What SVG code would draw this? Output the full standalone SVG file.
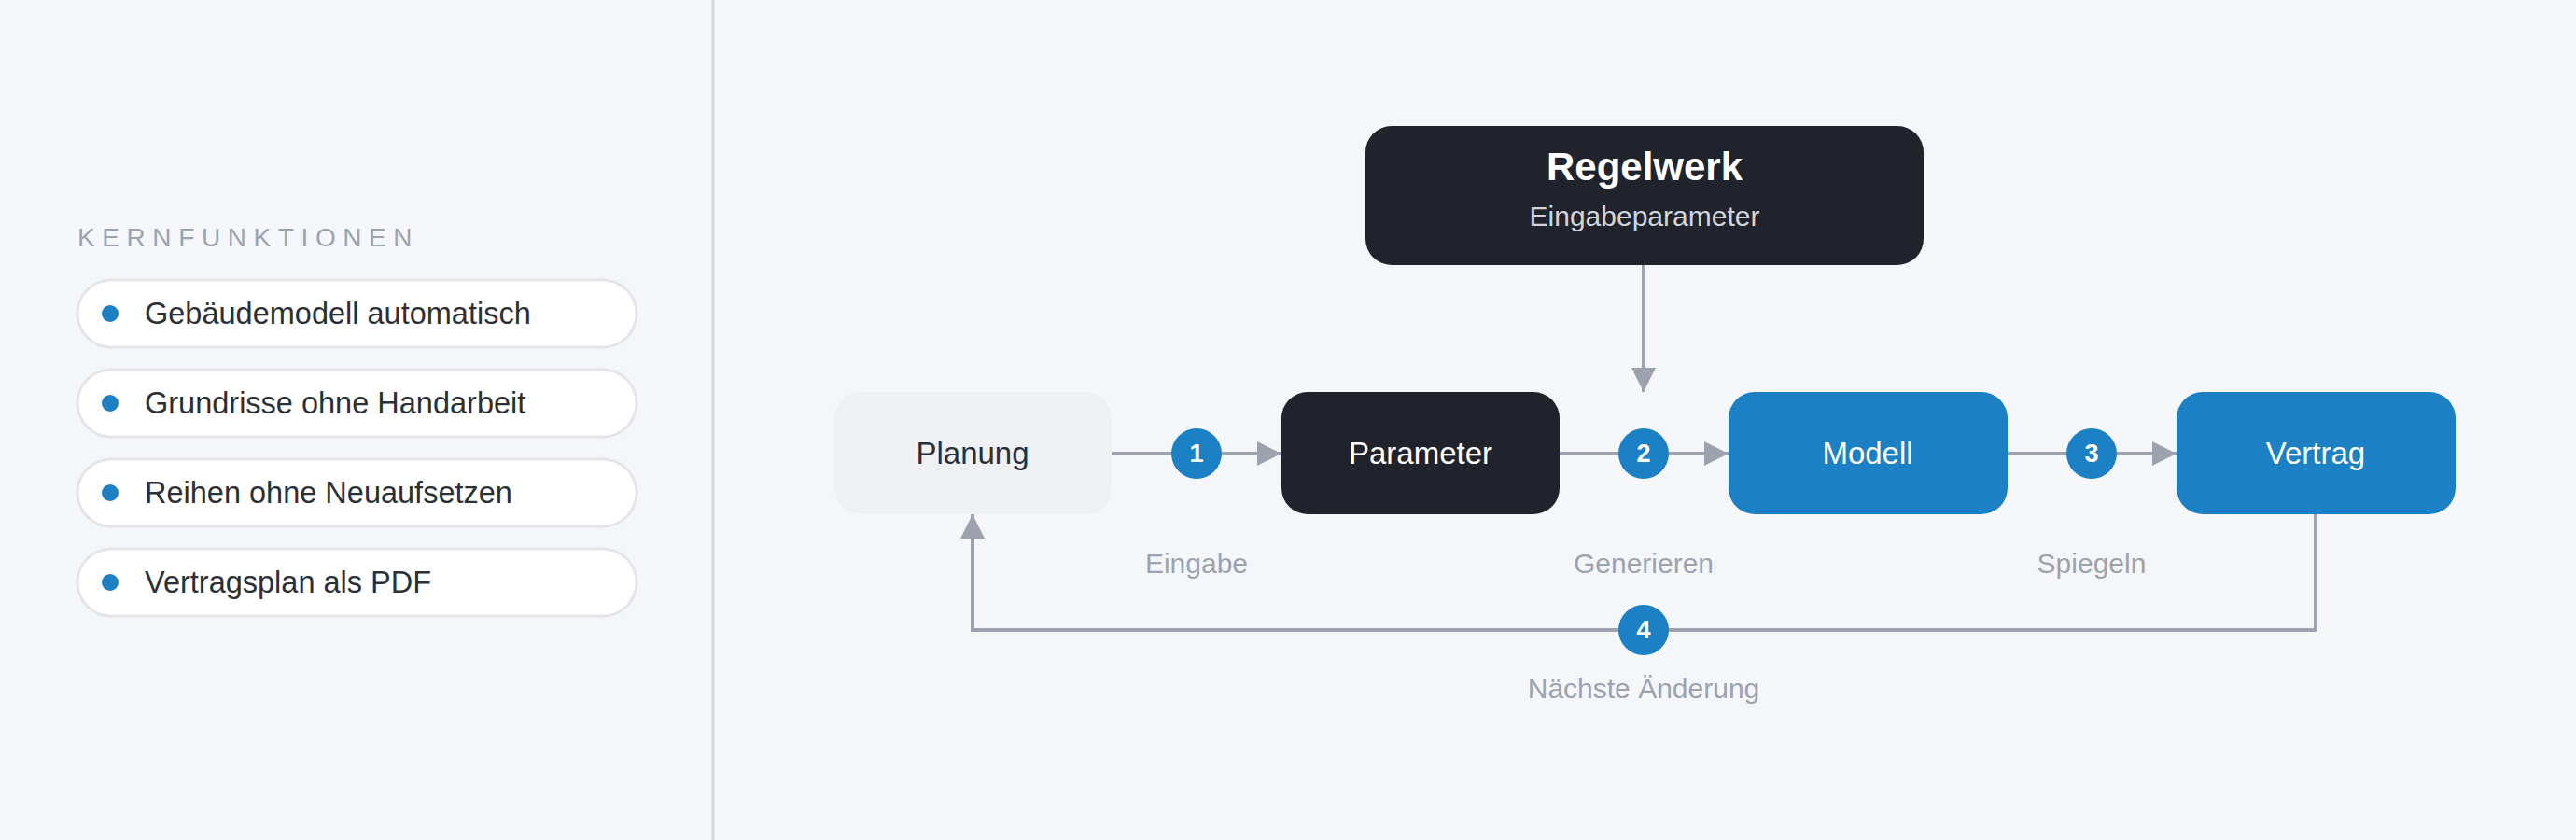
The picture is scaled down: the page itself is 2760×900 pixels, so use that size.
<svg xmlns="http://www.w3.org/2000/svg" width="2760" height="900" viewBox="0 0 2760 900">
<defs>
<marker id="ah" viewBox="0 0 10 10" refX="10" refY="5" markerWidth="6.5" markerHeight="6.5" markerUnits="strokeWidth" orient="auto"><path d="M0,0 L10,5 L0,10 z" fill="#9ca3af"/></marker>
<style>
text{font-family:"Liberation Sans",Arial,sans-serif}
.pill{fill:#ffffff;stroke:#e3e5ea;stroke-width:3}
.dot{fill:#1b80c4}
.pt{font-size:32.5px;fill:#2b2f36}
.nt{font-size:33px;text-anchor:middle}
.conn{stroke:#9ca3af;stroke-width:4;fill:none}
.badge{fill:#1b80c4}
.bt{font-size:27px;font-weight:bold;fill:#fff;text-anchor:middle}
.lab{font-size:30px;fill:#9ca3af;text-anchor:middle}
</style>
</defs>
<rect width="2760" height="900" fill="#f5f6fa"/>
<line x1="764" y1="0" x2="764" y2="900" stroke="#d5d8de" stroke-width="3"/>
<text x="83" y="264" font-size="28" fill="#9ca3af" letter-spacing="7.6">KERNFUNKTIONEN</text>
<g id="f1"><rect class="pill" x="83" y="300" width="599" height="72" rx="36"/><circle class="dot" cx="118" cy="336" r="9"/><text class="pt" x="155" y="347">Gebäudemodell automatisch</text></g>
<g id="f2"><rect class="pill" x="83" y="396" width="599" height="72" rx="36"/><circle class="dot" cx="118" cy="432" r="9"/><text class="pt" x="155" y="443">Grundrisse ohne Handarbeit</text></g>
<g id="f3"><rect class="pill" x="83" y="492" width="599" height="72" rx="36"/><circle class="dot" cx="118" cy="528" r="9"/><text class="pt" x="155" y="539">Reihen ohne Neuaufsetzen</text></g>
<g id="f4"><rect class="pill" x="83" y="588" width="599" height="72" rx="36"/><circle class="dot" cx="118" cy="624" r="9"/><text class="pt" x="155" y="635">Vertragsplan als PDF</text></g>
<g id="connectors">
<line class="conn" x1="1761" y1="284" x2="1761" y2="420" marker-end="url(#ah)"/>
<line class="conn" x1="1191" y1="486" x2="1373" y2="486" marker-end="url(#ah)"/>
<line class="conn" x1="1671" y1="486" x2="1852" y2="486" marker-end="url(#ah)"/>
<line class="conn" x1="2151" y1="486" x2="2332" y2="486" marker-end="url(#ah)"/>
<polyline class="conn" points="2481,551 2481,675 1042,675 1042,551" marker-end="url(#ah)"/>
<circle class="badge" cx="1282" cy="486" r="27"/><text class="bt" x="1282" y="495">1</text>
<circle class="badge" cx="1761" cy="486" r="27"/><text class="bt" x="1761" y="495">2</text>
<circle class="badge" cx="2241" cy="486" r="27"/><text class="bt" x="2241" y="495">3</text>
<circle class="badge" cx="1761" cy="675" r="27"/><text class="bt" x="1761" y="684">4</text>
<text class="lab" x="1282" y="614">Eingabe</text>
<text class="lab" x="1761" y="614">Generieren</text>
<text class="lab" x="2241" y="614">Spiegeln</text>
<text class="lab" x="1761" y="748">Nächste Änderung</text>
</g>
<g id="regelwerk"><rect x="1463" y="135" width="598" height="149" rx="28" fill="#20232b"/><text x="1762" y="193" font-size="42" font-weight="bold" fill="#fff" text-anchor="middle">Regelwerk</text><text x="1762" y="242" font-size="30" fill="#d1d5db" text-anchor="middle">Eingabeparameter</text></g>
<g id="planung"><rect x="894" y="420" width="297" height="131" rx="28" fill="#eef0f3"/><text class="nt" x="1042" y="497" fill="#2b2f36">Planung</text></g>
<g id="parameter"><rect x="1373" y="420" width="298" height="131" rx="28" fill="#20232b"/><text class="nt" x="1522" y="497" fill="#fff">Parameter</text></g>
<g id="modell"><rect x="1852" y="420" width="299" height="131" rx="28" fill="#1b80c4"/><text class="nt" x="2001" y="497" fill="#fff">Modell</text></g>
<g id="vertrag"><rect x="2332" y="420" width="299" height="131" rx="28" fill="#1b80c4"/><text class="nt" x="2481" y="497" fill="#fff">Vertrag</text></g>
</svg>
